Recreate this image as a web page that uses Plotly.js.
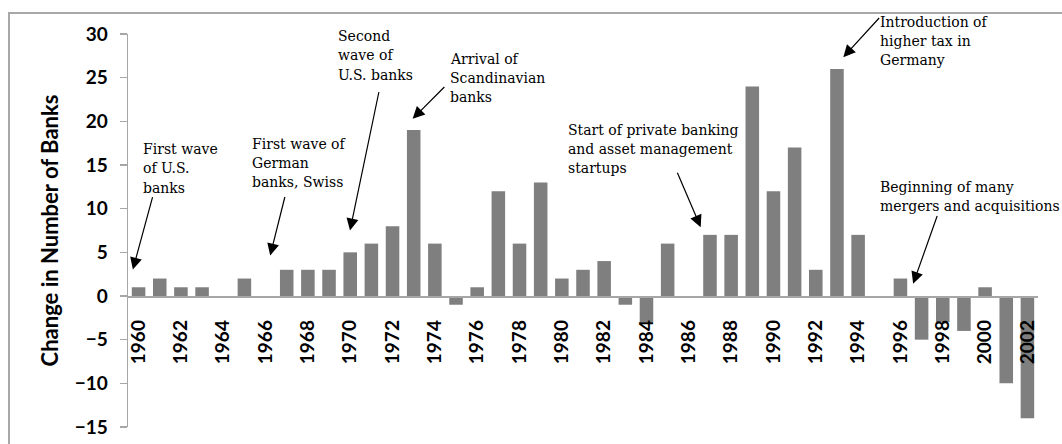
<!DOCTYPE html>
<html>
<head>
<meta charset="utf-8">
<script src="https://cdn.plot.ly/plotly-3.0.1.min.js"></script>
<style>
  html, body { margin: 0; padding: 0; background: #fff; }
  #wrap { position: relative; width: 1062px; height: 444px; overflow: hidden; }
  #chart { position: absolute; left: 0; top: 0; width: 1062px; height: 444px; }
  #frame { position: absolute; left: 8px; top: 12px; width: 1100px; height: 500px;
           border-left: 2px solid #a8a8a8; border-top: 2px solid #a8a8a8; pointer-events: none; }
</style>
</head>
<body>
<div id="wrap">
  <div id="chart"></div>
  <div id="frame"></div>
</div>
<script>
// ---- data ----
const years = [1960,1961,1962,1963,1964,1965,1966,1967,1968,1969,
               1970,1971,1972,1973,1974,1975,1976,1977,1978,1979,
               1980,1981,1982,1983,1984,1985,1986,1987,1988,1989,
               1990,1991,1992,1993,1994,1995,1996,1997,1998,1999,
               2000,2001,2002];
const changeInBanks = [1,2,1,1,0,2,0,3,3,3,
                       5,6,8,19,6,-1,1,12,6,13,
                       2,3,4,-1,-3,6,0,7,7,24,
                       12,17,3,26,7,0,2,-5,-3,-4,
                       1,-10,-14];
const yRange = [-15, 30];
const yTicks = [-15,-10,-5,0,5,10,15,20,25,30];
const xTickVals = [1960,1962,1964,1966,1968,1970,1972,1974,1976,1978,1980,
                   1982,1984,1986,1988,1990,1992,1994,1996,1998,2000,2002];
const yTitle = "Change in Number of Banks";

// annotation texts (one array of lines per note)
const noteLines = [
  ["First wave", "of U.S.", "banks"],
  ["First wave of", "German", "banks, Swiss"],
  ["Second", "wave of", "U.S. banks"],
  ["Arrival of", "Scandinavian", "banks"],
  ["Start of private banking", "and asset management", "startups"],
  ["Introduction of", "higher tax in", "Germany"],
  ["Beginning of many", "mergers and acquisitions"]
];
// last-line anchor (left, middle) in data coordinates; earlier lines stack above
const noteX = [1960.25, 1965.39, 1969.45, 1974.75, 1980.34, 1995.09, 1995.09];
const noteY = [12.42, 13.03, 25.36, 22.76, 14.63, 26.97, 10.25];
// arrows: tail and head in data coordinates
const arrowTailX = [1960.68, 1966.93, 1971.37, 1974.52, 1985.43, 1995.06, 1997.76];
const arrowTailY = [11.5, 11.51, 23.53, 24.1, 14.29, 32.0, 9.33];
const arrowHeadX = [1959.73, 1966.22, 1969.99, 1972.95, 1986.56, 1993.30, 1996.6];
const arrowHeadY = [3.03, 4.64, 7.5, 20.29, 7.88, 27.35, 1.4];

const axisGray = '#a6a6a6';
const sansBold = 'Lato, "Open Sans", sans-serif';
const tickFont = {family: sansBold, size: 19, color: '#000', weight: 'bold'};
const noteFont = {family: '"DejaVu Serif", "Liberation Serif", serif', size: 14, color: '#000'};
const lineStep = 19.3;

const annotations = [];
for (let i = 0; i < noteLines.length; i++) {
  const n = noteLines[i].length;
  noteLines[i].forEach(function (line, k) {
    annotations.push({
      x: noteX[i], y: noteY[i], xref: 'x', yref: 'y',
      yshift: (n - 1 - k) * lineStep, xshift: -3,
      text: line, showarrow: false, xanchor: 'left', yanchor: 'middle',
      align: 'left', font: noteFont
    });
  });
  annotations.push({
    x: arrowHeadX[i], y: arrowHeadY[i], xref: 'x', yref: 'y',
    ax: arrowTailX[i], ay: arrowTailY[i], axref: 'x', ayref: 'y',
    text: '', showarrow: true, arrowhead: 2, arrowsize: 2, arrowwidth: 1.2,
    arrowcolor: '#000', standoff: 0, startstandoff: 0
  });
}

const trace = {
  type: 'bar', x: years, y: changeInBanks, width: 0.64,
  marker: {color: '#7f7f7f', line: {width: 0}},
  hoverinfo: 'x+y'
};

const layout = {
  width: 1062, height: 444,
  margin: {l: 128, r: 24, t: 34, b: 17},
  paper_bgcolor: '#fff', plot_bgcolor: '#fff',
  showlegend: false,
  xaxis: {
    type: 'linear', range: [years[0] - 0.5, years[years.length - 1] + 0.5],
    tickmode: 'array', tickvals: xTickVals, ticktext: xTickVals.map(String),
    tickangle: -90, ticks: '', showgrid: false, zeroline: false,
    showline: true, linecolor: axisGray, linewidth: 1.5,
    anchor: 'free', position: (0 - yRange[0]) / (yRange[1] - yRange[0]),
    tickfont: tickFont, ticklabelstandoff: 15
  },
  yaxis: {
    range: yRange, tickmode: 'array', tickvals: yTicks,
    ticks: 'outside', ticklen: 7, tickcolor: axisGray, tickwidth: 1.3,
    showline: true, linecolor: axisGray, linewidth: 1.3,
    showgrid: false, zeroline: false,
    tickfont: tickFont, ticklabelstandoff: 8,
    title: {text: yTitle, font: {family: sansBold, size: 22, color: '#000', weight: 'bold'}, standoff: 10}
  },
  annotations: annotations
};

Plotly.newPlot('chart', [trace], layout, {displayModeBar: false, staticPlot: true});
</script>
</body>
</html>
